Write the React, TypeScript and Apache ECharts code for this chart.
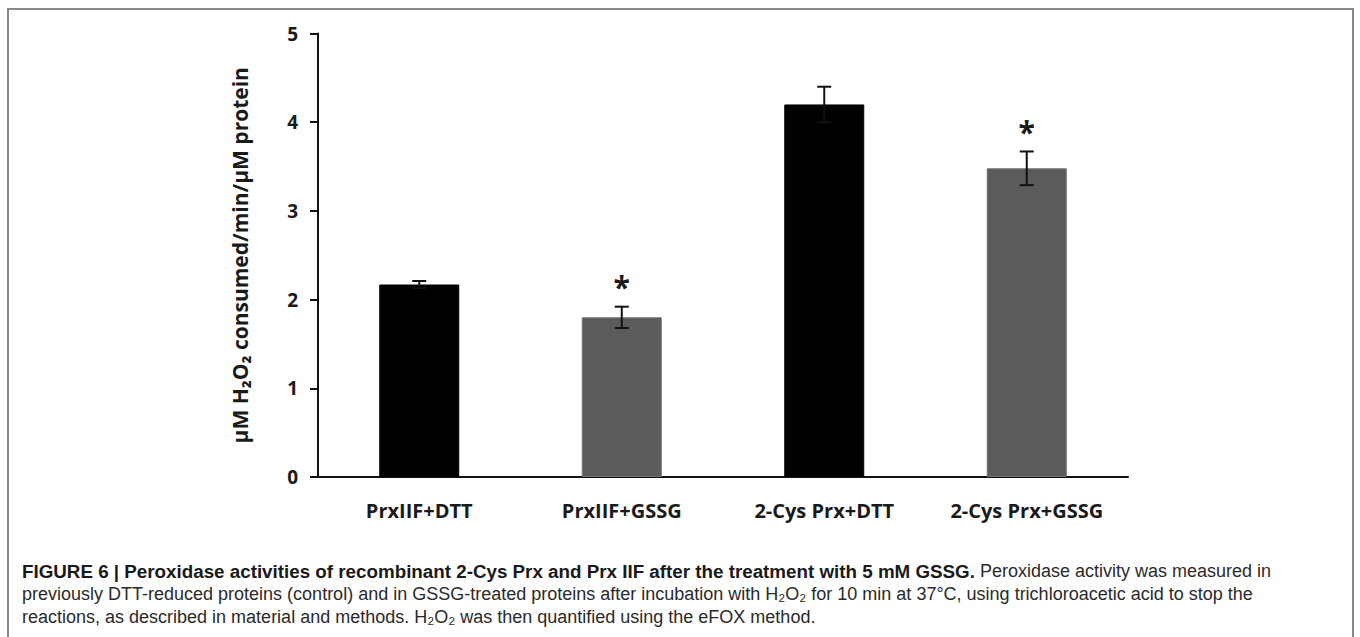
import React, { useEffect, useRef } from "react";
import * as echarts from "echarts";

const categories = ["PrxIIF+DTT", "PrxIIF+GSSG", "2-Cys Prx+DTT", "2-Cys Prx+GSSG"];
const means = [2.17, 1.8, 4.2, 3.48];
const errors = [0.04, 0.12, 0.2, 0.19];
const significance = ["", "*", "", "*"];
const barColors = ["#000000", "#5b5b5b", "#000000", "#5b5b5b"];
const yAxisTitle = "μM H₂O₂ consumed/min/μM protein";
const captionBold = "FIGURE 6 | Peroxidase activities of recombinant 2-Cys Prx and Prx IIF after the treatment with 5 mM GSSG.";
const captionLine1 = " Peroxidase activity was measured in";
const captionLine2 = "previously DTT-reduced proteins (control) and in GSSG-treated proteins after incubation with H₂O₂ for 10 min at 37°C, using trichloroacetic acid to stop the";
const captionLine3 = "reactions, as described in material and methods. H₂O₂ was then quantified using the eFOX method.";

const LABEL_FONT = "'Open Sans', 'Noto Sans', sans-serif";
const CAPTION_FONT = "'Liberation Sans', Arial, sans-serif";

export default function App() {
  const ref = useRef<HTMLDivElement>(null);
  useEffect(() => {
    if (!ref.current) return;
    const chart = echarts.init(ref.current, undefined, { renderer: "svg" });
    const errData = categories.map((_, i) => [i, means[i], errors[i]]);
    chart.setOption({
      animation: false,
      backgroundColor: "#ffffff",
      grid: { left: 318, right: 232, top: 33.5, bottom: 160, containLabel: false },
      xAxis: {
        type: "category",
        data: categories,
        axisLine: { show: true, lineStyle: { color: "#111", width: 2 } },
        axisTick: { show: false },
        axisLabel: {
          margin: 23,
          color: "#1a1a1a",
          fontFamily: LABEL_FONT,
          fontWeight: "bold",
          fontSize: 20,
        },
      },
      yAxis: {
        type: "value",
        min: 0,
        max: 5,
        interval: 1,
        splitLine: { show: false },
        axisLine: { show: true, lineStyle: { color: "#111", width: 2 } },
        axisTick: { show: true, length: 8, lineStyle: { color: "#111", width: 2 } },
        axisLabel: {
          margin: 20,
          color: "#1a1a1a",
          fontFamily: LABEL_FONT,
          fontWeight: "bold",
          fontSize: 19,
        },
        name: yAxisTitle,
        nameLocation: "middle",
        nameRotate: 90,
        nameGap: 68,
        nameTextStyle: {
          color: "#1a1a1a",
          fontFamily: LABEL_FONT,
          fontWeight: "bold",
          fontSize: 21,
        },
      },
      series: [
        {
          type: "bar",
          barWidth: 80,
          data: means.map((v, i) => ({
            value: v,
            itemStyle: {
              color: barColors[i],
              borderColor: i % 2 === 1 ? "#707070" : "#000",
              borderWidth: 1,
            },
          })),
        },
        {
          type: "custom",
          data: errData,
          encode: { x: 0, y: 1 },
          z: 10,
          renderItem: (params: any, api: any) => {
            const idx = api.value(0);
            const m = api.value(1);
            const e = api.value(2);
            const top = api.coord([idx, m + e]);
            const bot = api.coord([idx, m - e]);
            const half = 7;
            const children: any[] = [
              { type: "line", shape: { x1: top[0], y1: top[1], x2: bot[0], y2: bot[1] }, style: { stroke: "#111", lineWidth: 2 } },
              { type: "line", shape: { x1: top[0] - half, y1: top[1], x2: top[0] + half, y2: top[1] }, style: { stroke: "#111", lineWidth: 2 } },
              { type: "line", shape: { x1: bot[0] - half, y1: bot[1], x2: bot[0] + half, y2: bot[1] }, style: { stroke: "#111", lineWidth: 2 } },
            ];
            const sig = significance[params.dataIndex];
            if (sig) {
              children.push({
                type: "text",
                style: {
                  text: sig,
                  x: top[0],
                  y: top[1] - 5,
                  align: "center",
                  verticalAlign: "bottom",
                  fontFamily: LABEL_FONT,
                  fontWeight: "bold",
                  fontSize: 30,
                  fill: "#1a1a1a",
                },
              });
            }
            return { type: "group", children };
          },
        },
      ],
      graphic: [
        {
          type: "rect",
          shape: { x: 8, y: 9, width: 1345, height: 660 },
          style: { fill: "none", stroke: "#888888", lineWidth: 2 },
          silent: true,
        },
        {
          type: "text",
          x: 22,
          y: 571,
          style: {
            text: `{b|${captionBold}}{r|${captionLine1}}`,
            verticalAlign: "middle",
            rich: {
              b: { fontFamily: CAPTION_FONT, fontWeight: "bold", fontSize: 18.8, fill: "#1a1a1a" },
              r: { fontFamily: CAPTION_FONT, fontSize: 18, fill: "#2a2a2a" },
            },
          },
        },
        {
          type: "text",
          x: 22,
          y: 594,
          style: { text: captionLine2, verticalAlign: "middle", fontFamily: CAPTION_FONT, fontSize: 18, fill: "#2a2a2a" },
        },
        {
          type: "text",
          x: 22,
          y: 617,
          style: { text: captionLine3, verticalAlign: "middle", fontFamily: CAPTION_FONT, fontSize: 18, fill: "#2a2a2a" },
        },
      ],
    });
    return () => chart.dispose();
  }, []);
  return (
    <div
      ref={ref}
      style={{ position: "fixed", left: 0, top: 0, width: 1360, height: 637, background: "#fff" }}
    />
  );
}
